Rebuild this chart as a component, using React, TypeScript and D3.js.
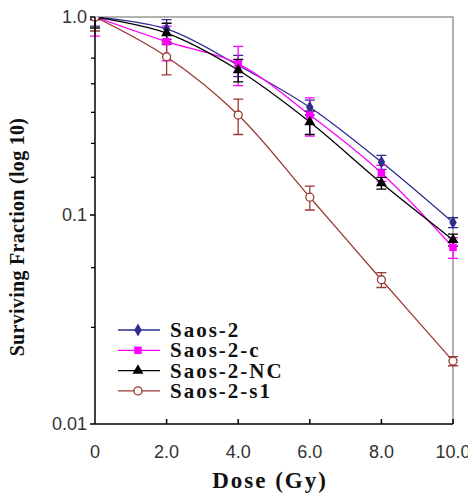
import { useEffect, useRef } from 'react';
import * as d3 from 'd3';

// dose values (Gy)
const doses = [0, 2, 4, 6, 8, 10];

// surviving fractions
const saos2 = [1.0, 0.87, 0.57, 0.35, 0.185, 0.092];
const saos2Err = [0.1, 0.1, 0.07, 0.03, 0.015, 0.005];
const saos2c = [1.0, 0.75, 0.58, 0.32, 0.163, 0.07];
const saos2cErr = [0.2, 0.15, 0.13, 0.07, 0.015, 0.008];
const saos2nc = [1.0, 0.83, 0.54, 0.295, 0.145, 0.076];
const saos2ncErr = [0.12, 0.1, 0.07, 0.04, 0.01, 0.005];
const saos2s1 = [1.0, 0.63, 0.32, 0.123, 0.049, 0.02];
const saos2s1Err = [0.15, 0.12, 0.065, 0.017, 0.004, 0.001];

const seriesNames = ['Saos-2', 'Saos-2-c', 'Saos-2-NC', 'Saos-2-s1'];
const seriesColors = ['#2E2E8F', '#FF00FF', '#000000', '#9A3A34'];
const seriesMarkers = ['diamond', 'square', 'triangle', 'circle'];

const xTicks = [0, 2, 4, 6, 8, 10];
const yTicks = [1, 0.1, 0.01];
const yTickLabels = ['1.0', '0.1', '0.01'];
const yMinorTicks = [0.62, 0.46, 0.33, 0.23, 0.155, 0.056, 0.029];

const W = 468;
const H = 494;

const App = () => {
    const ref = useRef<SVGSVGElement>(null);

    useEffect(() => {
        const svg = d3.select(ref.current);
        svg.selectAll('*').remove();

        const x = d3.scaleLinear().domain([0, 10]).range([95, 453]);
        // picture's decades are not quite equal, so piecewise log
        const y = d3.scaleLog().domain([0.01, 0.1, 1]).range([424, 215, 17]);

        const values = [saos2, saos2c, saos2nc, saos2s1];
        const errors = [saos2Err, saos2cErr, saos2ncErr, saos2s1Err];

        svg.append('defs').append('clipPath').attr('id', 'plot-clip')
            .append('rect').attr('x', 80).attr('y', 17).attr('width', 390).attr('height', 410);

        // frame: gray top and right
        svg.append('path')
            .attr('d', `M${x(0)},${y(1)}H${x(10)}V${y(0.01)}`)
            .attr('fill', 'none').attr('stroke', '#999').attr('stroke-width', 1.5);

        const marker = (g: any, kind: string, color: string, cx: number, cy: number) => {
            if (kind === 'circle') {
                g.append('circle').attr('cx', cx).attr('cy', cy).attr('r', 4)
                    .attr('fill', '#fff').attr('stroke', color).attr('stroke-width', 1.3);
            } else {
                const sym = kind === 'diamond' ? d3.symbolDiamond : kind === 'square' ? d3.symbolSquare : d3.symbolTriangle;
                const size = kind === 'diamond' ? 48 : kind === 'square' ? 56 : 52;
                g.append('path')
                    .attr('d', d3.symbol().type(sym).size(size)())
                    .attr('transform', `translate(${cx},${cy})`)
                    .attr('fill', color);
            }
        };

        const plot = svg.append('g').attr('clip-path', 'url(#plot-clip)');

        values.forEach((vals, si) => {
            const color = seriesColors[si];
            const pts = doses.map((d, i) => [x(d), y(vals[i])] as [number, number]);
            plot.append('path')
                .attr('d', d3.line().curve(d3.curveCatmullRom.alpha(0.5))(pts))
                .attr('fill', 'none').attr('stroke', color).attr('stroke-width', 1.3);

            // error bars
            doses.forEach((d, i) => {
                const cx = x(d);
                const hi = y(vals[i] + errors[si][i]);
                const lo = y(Math.max(vals[i] - errors[si][i], 0.001));
                plot.append('path')
                    .attr('d', `M${cx},${hi}V${lo}M${cx - 5},${hi}H${cx + 5}M${cx - 5},${lo}H${cx + 5}`)
                    .attr('fill', 'none').attr('stroke', color).attr('stroke-width', 1.3);
            });
        });

        values.forEach((vals, si) => {
            doses.forEach((d, i) => marker(plot, seriesMarkers[si], seriesColors[si], x(d), y(vals[i])));
        });

        // axes
        svg.append('line').attr('x1', x(0)).attr('x2', x(0)).attr('y1', y(1)).attr('y2', y(0.01))
            .attr('stroke', '#000').attr('stroke-width', 1.5);
        svg.append('line').attr('x1', x(0)).attr('x2', x(10)).attr('y1', y(0.01)).attr('y2', y(0.01))
            .attr('stroke', '#000').attr('stroke-width', 1.5);

        xTicks.forEach((t) => {
            if (t > 0) {
                svg.append('line').attr('x1', x(t)).attr('x2', x(t))
                    .attr('y1', y(0.01)).attr('y2', y(0.01) - 5)
                    .attr('stroke', '#000').attr('stroke-width', 1.5);
            }
            svg.append('text').attr('x', x(t)).attr('y', 458)
                .attr('text-anchor', 'middle')
                .style('font', '18px "Liberation Sans", Arial, sans-serif').attr('fill', '#333')
                .text(t === 0 ? '0' : t.toFixed(1));
        });

        yTicks.forEach((t, i) => {
            svg.append('line').attr('x1', x(0) - 5).attr('x2', x(0))
                .attr('y1', y(t)).attr('y2', y(t)).attr('stroke', '#000').attr('stroke-width', 1.5);
            svg.append('text').attr('x', 87).attr('y', y(t) + 6)
                .attr('text-anchor', 'end')
                .style('font', '18px "Liberation Sans", Arial, sans-serif').attr('fill', '#333')
                .text(yTickLabels[i]);
        });
        yMinorTicks.forEach((t) => {
            svg.append('line').attr('x1', x(0) - 4).attr('x2', x(0))
                .attr('y1', y(t)).attr('y2', y(t)).attr('stroke', '#000').attr('stroke-width', 1.3);
        });

        // axis titles
        svg.append('text').attr('x', 270).attr('y', 488)
            .attr('text-anchor', 'middle')
            .style('font', 'bold 23px "Liberation Serif", "DejaVu Serif", serif')
            .style('letter-spacing', '2px')
            .attr('fill', '#111')
            .text('Dose (Gy)');
        svg.append('text')
            .attr('transform', 'translate(24,237) rotate(-90)')
            .attr('text-anchor', 'middle')
            .style('font', 'bold 20px "Liberation Serif", "DejaVu Serif", serif')
            .style('letter-spacing', '0.3px')
            .attr('fill', '#111')
            .text('Surviving Fraction (log 10)');

        // legend
        seriesNames.forEach((name, i) => {
            const ly = 330 + i * 20.3;
            svg.append('line').attr('x1', 118).attr('x2', 160).attr('y1', ly).attr('y2', ly)
                .attr('stroke', seriesColors[i]).attr('stroke-width', 1.3);
            marker(svg, seriesMarkers[i], seriesColors[i], 138, ly);
            svg.append('text').attr('x', 170).attr('y', ly + 7)
                .style('font', 'bold 21px "Liberation Serif", "DejaVu Serif", serif')
                .style('letter-spacing', '2px')
                .attr('fill', '#111')
                .text(name);
        });
    }, []);

    return (
        <div style={{ position: 'fixed', left: 0, top: 0, width: W, height: H, background: '#fff' }}>
            <svg ref={ref} width={W} height={H} style={{ display: 'block' }}></svg>
        </div>
    );
};

export default App;
